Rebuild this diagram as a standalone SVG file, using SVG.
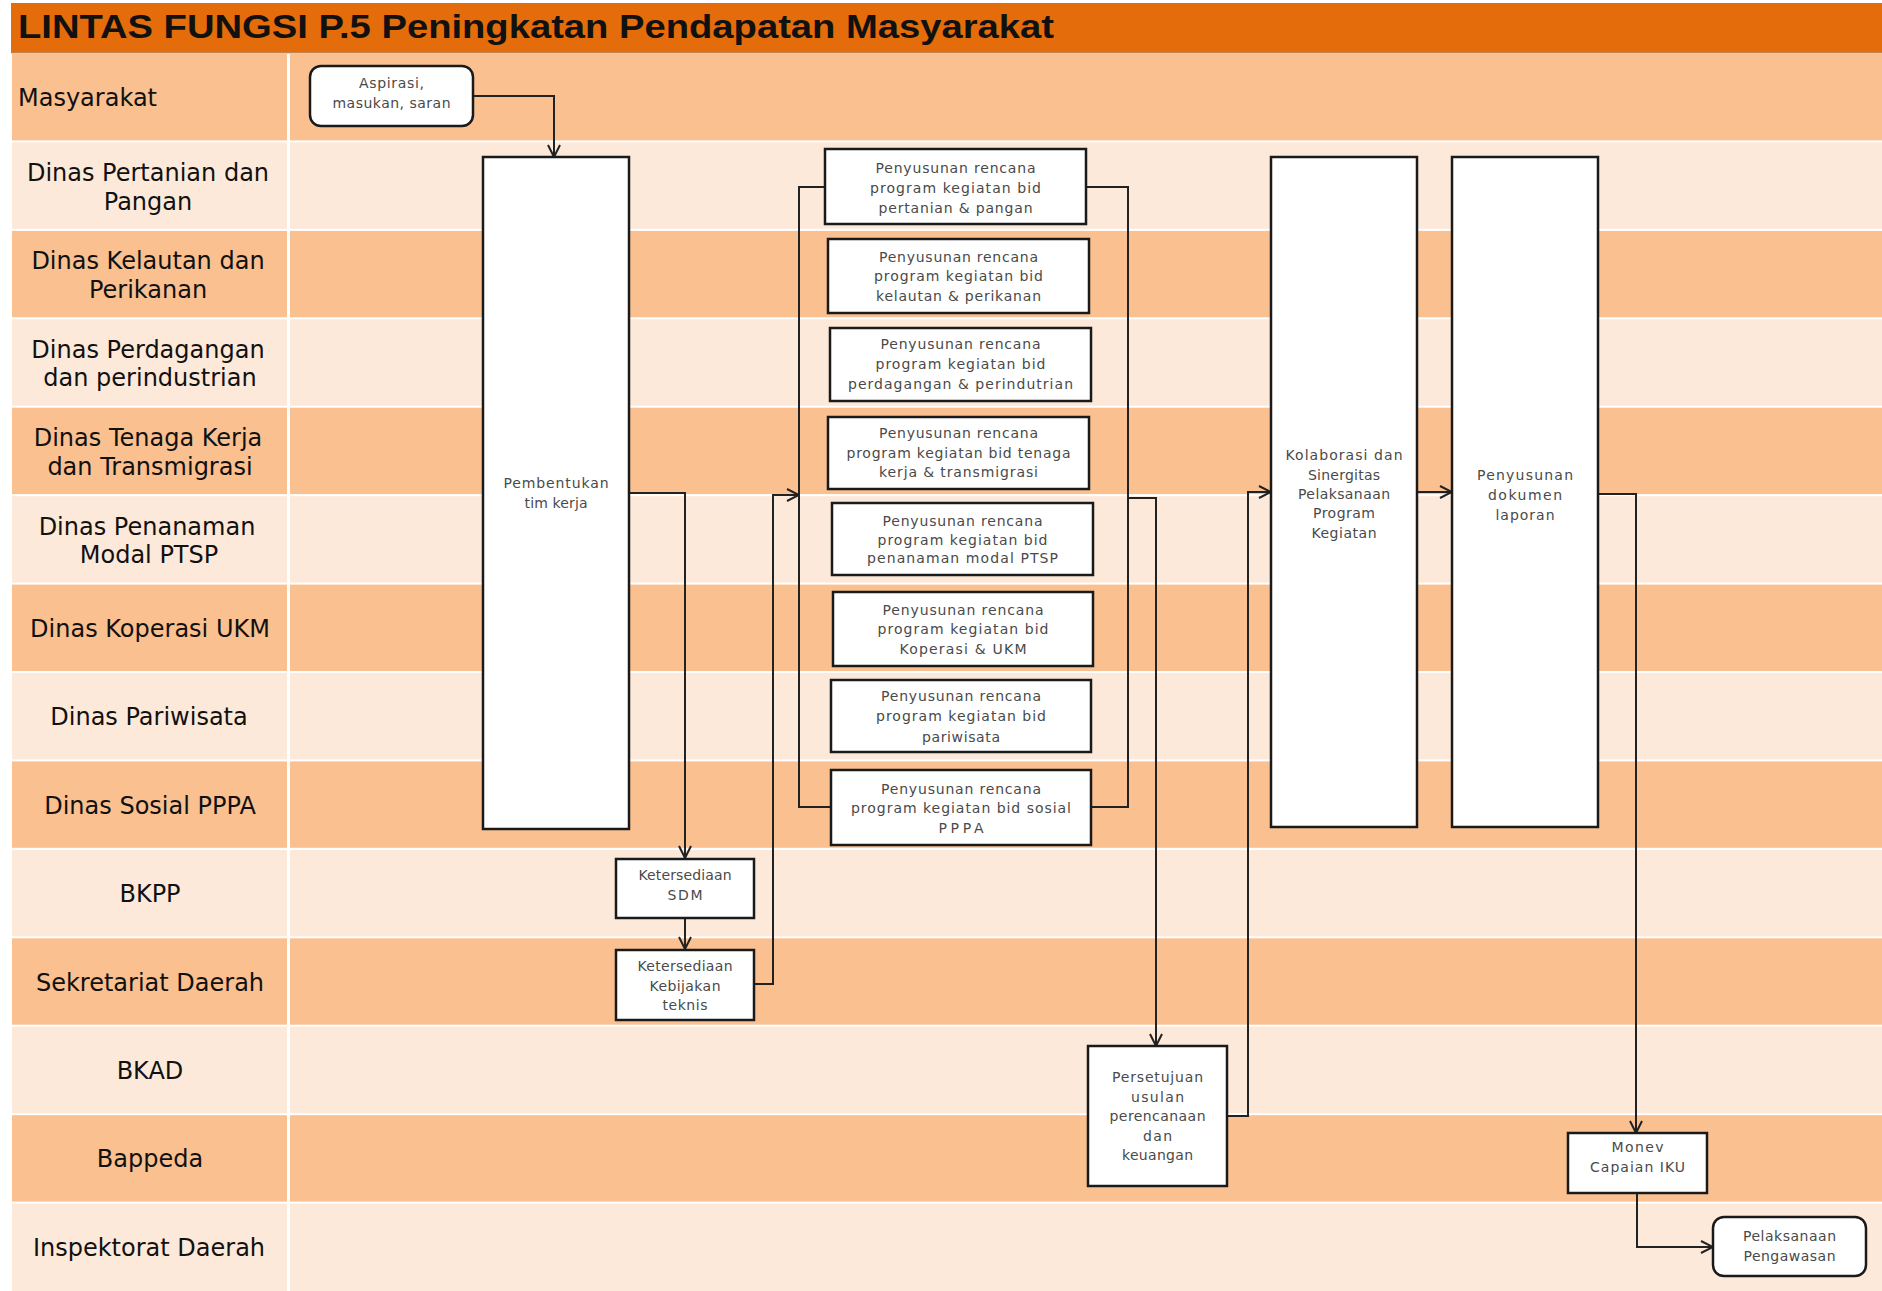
<svg xmlns="http://www.w3.org/2000/svg" width="1882" height="1291" viewBox="0 0 1882 1291">
<defs>
<style>
.dk{fill:#FAC090}
.lt{fill:#FDE9D9}
.lane{font-family:"DejaVu Sans",Verdana,sans-serif;font-size:24px;fill:#111;text-anchor:middle}
.box{fill:#fff;stroke:#1a1a1a;stroke-width:2.5}
.t{font-family:"DejaVu Sans",Verdana,sans-serif;font-size:14px;fill:#4a4a4a;text-anchor:middle}
.c{fill:none;stroke:#222;stroke-width:2}
</style>
<marker id="arr" markerUnits="userSpaceOnUse" markerWidth="14" markerHeight="14" viewBox="0 0 14 14" refX="13" refY="7" orient="auto">
<path d="M1,1 L13,7 L1,13" fill="none" stroke="#222" stroke-width="2"/>
</marker>
</defs>
<rect width="1882" height="1291" fill="#fff"/>
<g id="title">
<rect x="11" y="3" width="1871" height="50" fill="#E46C0A"/>
<line x1="11" y1="53" x2="1882" y2="53" stroke="#a0a0a0" stroke-width="1"/>
<text x="18" y="38" font-family="'Liberation Sans',Arial,sans-serif" font-weight="bold" font-size="34" fill="#111" textLength="1036" lengthAdjust="spacingAndGlyphs">LINTAS FUNGSI P.5 Peningkatan Pendapatan Masyarakat</text>
</g>
<g id="lanes">
<rect class="dk" x="12" y="54" width="275" height="86.4"/><rect class="dk" x="290" y="54" width="1592" height="86.4"/>
<rect class="lt" x="12" y="142.4" width="275" height="86.4"/><rect class="lt" x="290" y="142.4" width="1592" height="86.4"/>
<rect class="dk" x="12" y="230.9" width="275" height="86.4"/><rect class="dk" x="290" y="230.9" width="1592" height="86.4"/>
<rect class="lt" x="12" y="319.3" width="275" height="86.4"/><rect class="lt" x="290" y="319.3" width="1592" height="86.4"/>
<rect class="dk" x="12" y="407.7" width="275" height="86.4"/><rect class="dk" x="290" y="407.7" width="1592" height="86.4"/>
<rect class="lt" x="12" y="496.2" width="275" height="86.4"/><rect class="lt" x="290" y="496.2" width="1592" height="86.4"/>
<rect class="dk" x="12" y="584.6" width="275" height="86.4"/><rect class="dk" x="290" y="584.6" width="1592" height="86.4"/>
<rect class="lt" x="12" y="673" width="275" height="86.4"/><rect class="lt" x="290" y="673" width="1592" height="86.4"/>
<rect class="dk" x="12" y="761.4" width="275" height="86.4"/><rect class="dk" x="290" y="761.4" width="1592" height="86.4"/>
<rect class="lt" x="12" y="849.9" width="275" height="86.4"/><rect class="lt" x="290" y="849.9" width="1592" height="86.4"/>
<rect class="dk" x="12" y="938.3" width="275" height="86.4"/><rect class="dk" x="290" y="938.3" width="1592" height="86.4"/>
<rect class="lt" x="12" y="1026.7" width="275" height="86.4"/><rect class="lt" x="290" y="1026.7" width="1592" height="86.4"/>
<rect class="dk" x="12" y="1115.2" width="275" height="86.4"/><rect class="dk" x="290" y="1115.2" width="1592" height="86.4"/>
<rect class="lt" x="12" y="1203.6" width="275" height="87.4"/><rect class="lt" x="290" y="1203.6" width="1592" height="87.4"/>
<text class="lane" x="18" y="106" style="text-anchor:start">Masyarakat</text>
<text class="lane" x="148" y="181">Dinas Pertanian dan</text><text class="lane" x="148" y="209.5">Pangan</text>
<text class="lane" x="148" y="269">Dinas Kelautan dan</text><text class="lane" x="148" y="297.5">Perikanan</text>
<text class="lane" x="148" y="357.5">Dinas Perdagangan</text><text class="lane" x="150" y="386">dan perindustrian</text>
<text class="lane" x="148" y="446">Dinas Tenaga Kerja</text><text class="lane" x="150" y="474.5">dan Transmigrasi</text>
<text class="lane" x="147" y="534.5">Dinas Penanaman</text><text class="lane" x="149" y="563">Modal PTSP</text>
<text class="lane" x="150" y="636.8">Dinas Koperasi UKM</text>
<text class="lane" x="149" y="725">Dinas Pariwisata</text>
<text class="lane" x="150" y="813.5">Dinas Sosial PPPA</text>
<text class="lane" x="150" y="902">BKPP</text>
<text class="lane" x="150" y="990.5">Sekretariat Daerah</text>
<text class="lane" x="150" y="1079">BKAD</text>
<text class="lane" x="150" y="1167">Bappeda</text>
<text class="lane" x="149" y="1256">Inspektorat Daerah</text>
</g>
<g id="connectors">
<path class="c" d="M473,96 H554 V157" marker-end="url(#arr)"/>
<path class="c" d="M629,493 H685 V858" marker-end="url(#arr)"/>
<path class="c" d="M685,918 V949" marker-end="url(#arr)"/>
<path class="c" d="M754,984 H773 V495 H799" marker-end="url(#arr)"/>
<path class="c" d="M825,187 H799 V807 H831"/>
<path class="c" d="M1086,187 H1128 V807 H1091"/>
<path class="c" d="M1128,498 H1156 V1046" marker-end="url(#arr)"/>
<path class="c" d="M1227,1116 H1248 V492 H1271" marker-end="url(#arr)"/>
<path class="c" d="M1417,492 H1452" marker-end="url(#arr)"/>
<path class="c" d="M1598,494 H1636 V1133" marker-end="url(#arr)"/>
<path class="c" d="M1637,1193 V1247 H1713" marker-end="url(#arr)"/>
</g>
<g id="n-aspirasi">
<rect class="box" x="310" y="66" width="163" height="60" rx="11"/>
<text class="t" x="391.5" y="88" textLength="65" lengthAdjust="spacing">Aspirasi,</text>
<text class="t" x="391.5" y="108" textLength="118" lengthAdjust="spacing">masukan, saran</text>
</g>
<g id="n-pembentukan">
<rect class="box" x="483" y="157" width="146" height="672"/>
<text class="t" x="556" y="488" textLength="105" lengthAdjust="spacing">Pembentukan</text>
<text class="t" x="556" y="508" textLength="63" lengthAdjust="spacing">tim kerja</text>
</g>
<g id="n-sdm">
<rect class="box" x="616" y="859" width="138" height="59"/>
<text class="t" x="685" y="880" textLength="93" lengthAdjust="spacing">Ketersediaan</text>
<text class="t" x="685" y="900" textLength="35" lengthAdjust="spacing">SDM</text>
</g>
<g id="n-kebijakan">
<rect class="box" x="616" y="950" width="138" height="70"/>
<text class="t" x="685" y="971" textLength="95" lengthAdjust="spacing">Ketersediaan</text>
<text class="t" x="685" y="991" textLength="71" lengthAdjust="spacing">Kebijakan</text>
<text class="t" x="685" y="1010" textLength="45" lengthAdjust="spacing">teknis</text>
</g>
<g id="n-p1">
<rect class="box" x="825" y="149" width="261" height="75"/>
<text class="t" x="955.5" y="173" textLength="160" lengthAdjust="spacing">Penyusunan rencana</text>
<text class="t" x="955.5" y="193" textLength="171" lengthAdjust="spacing">program kegiatan bid</text>
<text class="t" x="955.5" y="213" textLength="154" lengthAdjust="spacing">pertanian &amp; pangan</text>
</g>
<g id="n-p2">
<rect class="box" x="828" y="239" width="261" height="74"/>
<text class="t" x="958.5" y="262" textLength="159" lengthAdjust="spacing">Penyusunan rencana</text>
<text class="t" x="958.5" y="281" textLength="169" lengthAdjust="spacing">program kegiatan bid</text>
<text class="t" x="958.5" y="301" textLength="165" lengthAdjust="spacing">kelautan &amp; perikanan</text>
</g>
<g id="n-p3">
<rect class="box" x="830" y="328" width="261" height="73"/>
<text class="t" x="960.5" y="349" textLength="160" lengthAdjust="spacing">Penyusunan rencana</text>
<text class="t" x="960.5" y="369" textLength="170" lengthAdjust="spacing">program kegiatan bid</text>
<text class="t" x="960.5" y="389" textLength="225" lengthAdjust="spacing">perdagangan &amp; perindutrian</text>
</g>
<g id="n-p4">
<rect class="box" x="828" y="417" width="261" height="72"/>
<text class="t" x="958.5" y="438" textLength="159" lengthAdjust="spacing">Penyusunan rencana</text>
<text class="t" x="958.5" y="458" textLength="224" lengthAdjust="spacing">program kegiatan bid tenaga</text>
<text class="t" x="958.5" y="477" textLength="159" lengthAdjust="spacing">kerja &amp; transmigrasi</text>
</g>
<g id="n-p5">
<rect class="box" x="832" y="503" width="261" height="72"/>
<text class="t" x="962.5" y="526" textLength="160" lengthAdjust="spacing">Penyusunan rencana</text>
<text class="t" x="962.5" y="545" textLength="170" lengthAdjust="spacing">program kegiatan bid</text>
<text class="t" x="962.5" y="563" textLength="191" lengthAdjust="spacing">penanaman modal PTSP</text>
</g>
<g id="n-p6">
<rect class="box" x="833" y="592" width="260" height="74"/>
<text class="t" x="963" y="615" textLength="161" lengthAdjust="spacing">Penyusunan rencana</text>
<text class="t" x="963" y="634" textLength="171" lengthAdjust="spacing">program kegiatan bid</text>
<text class="t" x="963" y="654" textLength="127" lengthAdjust="spacing">Koperasi &amp; UKM</text>
</g>
<g id="n-p7">
<rect class="box" x="831" y="680" width="260" height="72"/>
<text class="t" x="961" y="701" textLength="160" lengthAdjust="spacing">Penyusunan rencana</text>
<text class="t" x="961" y="721" textLength="170" lengthAdjust="spacing">program kegiatan bid</text>
<text class="t" x="961" y="742" textLength="78" lengthAdjust="spacing">pariwisata</text>
</g>
<g id="n-p8">
<rect class="box" x="831" y="770" width="260" height="75"/>
<text class="t" x="961" y="794" textLength="160" lengthAdjust="spacing">Penyusunan rencana</text>
<text class="t" x="961" y="813" textLength="220" lengthAdjust="spacing">program kegiatan bid sosial</text>
<text class="t" x="961" y="833" textLength="45" lengthAdjust="spacing">PPPA</text>
</g>
<g id="n-persetujuan">
<rect class="box" x="1088" y="1046" width="139" height="140"/>
<text class="t" x="1157.5" y="1082" textLength="91" lengthAdjust="spacing">Persetujuan</text>
<text class="t" x="1157.5" y="1101.5" textLength="53" lengthAdjust="spacing">usulan</text>
<text class="t" x="1157.5" y="1121" textLength="96" lengthAdjust="spacing">perencanaan</text>
<text class="t" x="1157.5" y="1140.5" textLength="29" lengthAdjust="spacing">dan</text>
<text class="t" x="1157.5" y="1160" textLength="71" lengthAdjust="spacing">keuangan</text>
</g>
<g id="n-kolaborasi">
<rect class="box" x="1271" y="157" width="146" height="670"/>
<text class="t" x="1344" y="460" textLength="117" lengthAdjust="spacing">Kolaborasi dan</text>
<text class="t" x="1344" y="480" textLength="72" lengthAdjust="spacing">Sinergitas</text>
<text class="t" x="1344" y="499" textLength="92" lengthAdjust="spacing">Pelaksanaan</text>
<text class="t" x="1344" y="518" textLength="62" lengthAdjust="spacing">Program</text>
<text class="t" x="1344" y="538" textLength="65" lengthAdjust="spacing">Kegiatan</text>
</g>
<g id="n-dokumen">
<rect class="box" x="1452" y="157" width="146" height="670"/>
<text class="t" x="1525" y="480" textLength="96" lengthAdjust="spacing">Penyusunan</text>
<text class="t" x="1525" y="500" textLength="74" lengthAdjust="spacing">dokumen</text>
<text class="t" x="1525" y="520" textLength="59" lengthAdjust="spacing">laporan</text>
</g>
<g id="n-monev">
<rect class="box" x="1568" y="1133" width="139" height="60"/>
<text class="t" x="1637.5" y="1152" textLength="52" lengthAdjust="spacing">Monev</text>
<text class="t" x="1637.5" y="1172" textLength="95" lengthAdjust="spacing">Capaian IKU</text>
</g>
<g id="n-pengawasan">
<rect class="box" x="1713" y="1217" width="153" height="59" rx="11"/>
<text class="t" x="1789.5" y="1241" textLength="93" lengthAdjust="spacing">Pelaksanaan</text>
<text class="t" x="1789.5" y="1261" textLength="92" lengthAdjust="spacing">Pengawasan</text>
</g>
</svg>
